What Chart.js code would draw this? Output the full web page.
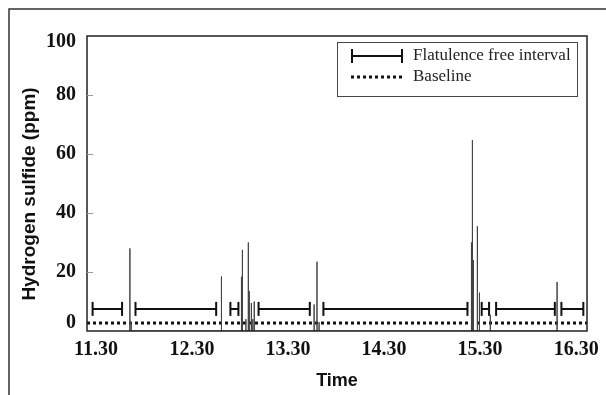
<!DOCTYPE html>
<html>
<head>
<meta charset="utf-8">
<script src="https://cdn.jsdelivr.net/npm/chart.js@4.4.1/dist/chart.umd.min.js"></script>
<style>
  html, body { margin: 0; padding: 0; background: #fff; }
  #wrap { width: 606px; height: 395px; position: relative; }
</style>
</head>
<body>
<div id="wrap"><canvas id="h2sChart"></canvas></div>
<script>
// time is in minutes after 11.30
const xMin = -5.6;
const xMax = 306.8;
const tickTimes = [0, 60, 120, 180, 240, 300];
const tickLabels = ['11.30', '12.30', '13.30', '14.30', '15.30', '16.30'];
const yTicks = [0, 20, 40, 60, 80, 100];

// hydrogen sulfide peaks (ppm)
const spikeTimes  = [21.2, 22.0, 78.4, 90.9, 91.5, 93.7, 95.2, 95.8, 97.1, 98.0, 98.9, 136.3, 138.1, 139.4, 234.6, 235.2, 235.8, 238.3, 239.6, 246.4, 288.1];
const spikeValues = [28, 3, 18.5, 18.4, 27.5, 4, 30, 13.5, 9.5, 4, 10, 9, 23.5, 3, 30, 64.7, 24, 35.5, 13, 5.5, 16.6];

// flatulence free intervals
const intervalStart = [-2.1, 24.7, 84.0, 101.6, 142.1, 241.0, 250.0, 290.8];
const intervalEnd   = [16.3, 75.1, 89.0, 133.6, 232.1, 245.6, 286.7, 304.5];
const intervalLevel = 7.5;

const baselineLevel = 2.7;

const spikePoints = [];
spikeTimes.forEach((t, i) => {
    spikePoints.push({x: t, y: 0}, {x: t, y: spikeValues[i]}, {x: t, y: 0});
});

const intervalPoints = [];
intervalStart.forEach((s, i) => {
    intervalPoints.push({x: s, y: intervalLevel}, {x: intervalEnd[i], y: intervalLevel}, {x: intervalEnd[i], y: null});
});

const serif = '"Liberation Serif", "Times New Roman", serif';
const sans = '"Liberation Sans", Arial, sans-serif';

const decorations = {
    id: 'decorations',
    afterDraw(chart) {
        const {ctx, chartArea: a, scales: {y}} = chart;
        ctx.save();

        // outer figure frame (top and left only)
        ctx.strokeStyle = '#333';
        ctx.lineWidth = 1.5;
        ctx.beginPath();
        ctx.moveTo(9, 395);
        ctx.lineTo(9, 9);
        ctx.lineTo(606, 9);
        ctx.stroke();

        // plot frame
        ctx.strokeStyle = '#222';
        ctx.lineWidth = 1.5;
        ctx.strokeRect(a.left, a.top, a.right - a.left, a.bottom - a.top);

        // inner y ticks
        ctx.strokeStyle = '#999';
        ctx.lineWidth = 1;
        yTicks.forEach(v => {
            if (v > 0 && v < 100) {
                const py = Math.round(y.getPixelForValue(v)) + 0.5;
                ctx.beginPath();
                ctx.moveTo(a.left, py);
                ctx.lineTo(a.left + 6, py);
                ctx.stroke();
            }
        });

        // y tick labels
        ctx.fillStyle = '#111';
        ctx.font = 'bold 20px ' + serif;
        ctx.textAlign = 'right';
        ctx.textBaseline = 'middle';
        yTicks.forEach(v => {
            let py = y.getPixelForValue(v);
            py = Math.min(Math.max(py, a.top + 6), a.bottom - 8);
            ctx.fillText(String(v), a.left - 11, py);
        });

        // y axis title
        ctx.save();
        ctx.translate(30, 194);
        ctx.rotate(-Math.PI / 2);
        ctx.textAlign = 'center';
        ctx.font = 'bold 19px ' + sans;
        ctx.fillText('Hydrogen sulfide (ppm)', 0, 0);
        ctx.restore();

        // legend
        const bx = 337, by = 42, bw = 240, bh = 54;
        ctx.strokeStyle = '#444';
        ctx.lineWidth = 1;
        ctx.strokeRect(bx + 0.5, by + 0.5, bw, bh);

        const r1 = 56, r2 = 77;
        ctx.strokeStyle = '#111';
        ctx.lineWidth = 2;
        ctx.beginPath();
        ctx.moveTo(351, r1); ctx.lineTo(403, r1);
        ctx.moveTo(352, r1 - 7); ctx.lineTo(352, r1 + 7);
        ctx.moveTo(402, r1 - 7); ctx.lineTo(402, r1 + 7);
        ctx.stroke();

        ctx.lineWidth = 3;
        ctx.setLineDash([3, 3]);
        ctx.beginPath();
        ctx.moveTo(351, r2); ctx.lineTo(404, r2);
        ctx.stroke();
        ctx.setLineDash([]);

        ctx.fillStyle = '#222';
        ctx.font = '17px ' + serif;
        ctx.textAlign = 'left';
        ctx.fillText('Flatulence free interval', 413, r1);
        ctx.fillText('Baseline', 413, r2);

        ctx.restore();
    }
};

new Chart(document.getElementById('h2sChart'), {
    type: 'line',
    data: {
        datasets: [{
            label: 'Hydrogen sulfide',
            data: spikePoints,
            borderColor: '#444',
            borderWidth: 1,
            pointRadius: 0,
            tension: 0
        }, {
            label: 'Flatulence free interval',
            data: intervalPoints,
            borderColor: '#111',
            borderWidth: 2,
            pointStyle: 'line',
            pointRotation: 90,
            pointRadius: 7,
            pointBorderWidth: 2,
            pointBorderColor: '#111',
            spanGaps: false
        }, {
            label: 'Baseline',
            data: [{x: xMin, y: baselineLevel}, {x: xMax, y: baselineLevel}],
            borderColor: '#111',
            borderWidth: 3,
            borderDash: [3, 3],
            pointRadius: 0
        }]
    },
    options: {
        responsive: true,
        maintainAspectRatio: false,
        animation: false,
        layout: {
            padding: {left: 8, top: 36, right: 17, bottom: 0}
        },
        plugins: {
            legend: {display: false},
            tooltip: {enabled: false}
        },
        scales: {
            x: {
                type: 'linear',
                min: xMin,
                max: xMax,
                afterBuildTicks: (scale) => {
                    scale.ticks = tickTimes.map(v => ({value: v}));
                },
                afterFit: (scale) => { scale.height = 64; },
                grid: {display: false, drawTicks: false},
                border: {display: false},
                ticks: {
                    padding: 7,
                    color: '#111',
                    maxRotation: 0,
                    font: {family: serif, size: 20, weight: 'bold'},
                    callback: (value) => tickLabels[tickTimes.indexOf(value)]
                },
                title: {
                    display: true,
                    text: 'Time',
                    color: '#111',
                    font: {family: sans, size: 18, weight: 'bold'},
                    padding: {top: 0, bottom: 3}
                }
            },
            y: {
                min: 0,
                max: 100,
                afterFit: (scale) => { scale.width = 79; },
                grid: {display: false, drawTicks: false},
                border: {display: false},
                ticks: {display: false, stepSize: 20}
            }
        }
    },
    plugins: [decorations]
});
</script>
</body>
</html>
